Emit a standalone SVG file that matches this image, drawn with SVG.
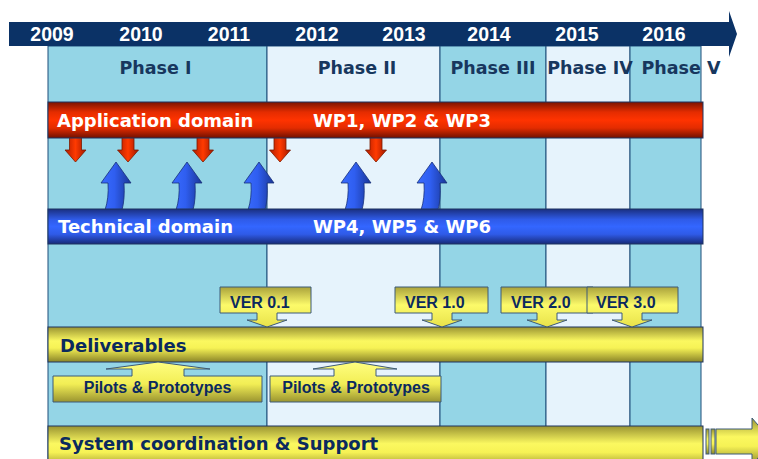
<svg xmlns="http://www.w3.org/2000/svg" width="758" height="459" viewBox="0 0 758 459">
  <style>
    .year { font: bold 19.5px "Liberation Sans", Arial, sans-serif; fill: #ffffff; text-anchor: middle; }
    .phase { font: bold 17.5px "DejaVu Sans", Verdana, sans-serif; fill: #17375e; text-anchor: middle; }
    .lane { font: bold 18px "DejaVu Sans", Verdana, sans-serif; }
    .light { fill: #ffffff; }
    .dark { fill: #0b2a5e; }
    .tag { font: bold 16px "Liberation Sans", Arial, sans-serif; fill: #0b2a5e; }
    .colA { fill: #94d5e6; stroke: #1f4e7a; stroke-width: 1; }
    .colB { fill: #e6f3fc; stroke: #1f4e7a; stroke-width: 1; }
    .bar { stroke: #1e3560; stroke-width: 1; }
    .ybox { stroke: #3d5a78; stroke-width: 1; }
    .down { fill: url(#gArrowRed); stroke: #7a1a00; stroke-width: 0.8; }
    .up { fill: url(#gArrowBlue); stroke: #18307a; stroke-width: 0.8; }
  </style>
  <defs>
    <linearGradient id="gRed" x1="0" y1="0" x2="0" y2="1">
      <stop offset="0" stop-color="#7a1300"/>
      <stop offset="0.28" stop-color="#e42c00"/>
      <stop offset="0.5" stop-color="#ff3300"/>
      <stop offset="0.72" stop-color="#e42c00"/>
      <stop offset="1" stop-color="#701000"/>
    </linearGradient>
    <linearGradient id="gBlue" x1="0" y1="0" x2="0" y2="1">
      <stop offset="0" stop-color="#1a2f80"/>
      <stop offset="0.3" stop-color="#2f5be8"/>
      <stop offset="0.5" stop-color="#3366ff"/>
      <stop offset="0.72" stop-color="#2f5be8"/>
      <stop offset="1" stop-color="#172a78"/>
    </linearGradient>
    <linearGradient id="gYellow" x1="0" y1="0" x2="0" y2="1">
      <stop offset="0" stop-color="#9a9432"/>
      <stop offset="0.4" stop-color="#fbf860"/>
      <stop offset="0.6" stop-color="#f6f255"/>
      <stop offset="1" stop-color="#8a8428"/>
    </linearGradient>
    <linearGradient id="gVer" x1="0" y1="0" x2="0" y2="1">
      <stop offset="0" stop-color="#aaa23c"/>
      <stop offset="0.45" stop-color="#fcfa6a"/>
      <stop offset="1" stop-color="#e8e24a"/>
    </linearGradient>
    <linearGradient id="gPilot" x1="0" y1="0" x2="0" y2="1">
      <stop offset="0" stop-color="#fffe80"/>
      <stop offset="0.55" stop-color="#f2ee55"/>
      <stop offset="1" stop-color="#9a9430"/>
    </linearGradient>
    <linearGradient id="gArrowRed" x1="0" y1="0" x2="1" y2="0">
      <stop offset="0" stop-color="#b01c00"/>
      <stop offset="0.5" stop-color="#ff3a00"/>
      <stop offset="1" stop-color="#a01800"/>
    </linearGradient>
    <linearGradient id="gArrowBlue" x1="0" y1="0" x2="1" y2="0">
      <stop offset="0" stop-color="#3a6cff"/>
      <stop offset="0.45" stop-color="#2f5ef0"/>
      <stop offset="1" stop-color="#1a3696"/>
    </linearGradient>
  </defs>

  <!-- phase columns -->
  <g id="phases">
    <rect class="colA" x="48" y="46" width="219" height="420"/>
    <rect class="colB" x="267" y="46" width="173" height="420"/>
    <rect class="colA" x="440" y="46" width="106" height="420"/>
    <rect class="colB" x="546" y="46" width="84" height="420"/>
    <rect class="colA" x="630" y="46" width="71" height="420"/>
    <text class="phase" x="155.5" y="74">Phase I</text>
    <text class="phase" x="357" y="74">Phase II</text>
    <text class="phase" x="493" y="74">Phase III</text>
    <text class="phase" x="590" y="74">Phase IV</text>
    <text class="phase" x="681" y="74">Phase V</text>
  </g>

  <!-- timeline header -->
  <g id="timeline">
    <path d="M9,22 H729 V11 L737,34 L729,57 V46 H9 Z" fill="#0b3266"/>
    <text class="year" x="52" y="41">2009</text>
    <text class="year" x="141" y="41">2010</text>
    <text class="year" x="229" y="41">2011</text>
    <text class="year" x="317" y="41">2012</text>
    <text class="year" x="404" y="41">2013</text>
    <text class="year" x="489" y="41">2014</text>
    <text class="year" x="577" y="41">2015</text>
    <text class="year" x="664" y="41">2016</text>
  </g>

  <!-- interaction arrows between the two domains -->
  <g id="connectors">
    <path class="down" d="M69.5,137 H81.5 V150 H86 L75.5,162 L65,150 H69.5 Z"/>
    <path class="down" d="M122,137 H134 V150 H138.5 L128,162 L117.5,150 H122 Z"/>
    <path class="down" d="M197,137 H209 V150 H213.5 L203,162 L192.5,150 H197 Z"/>
    <path class="down" d="M274,137 H286 V150 H290.5 L280,162 L269.5,150 H274 Z"/>
    <path class="down" d="M370,137 H382 V150 H386.5 L376,162 L365.5,150 H370 Z"/>

    <path class="up" d="M116,162 L131,183 H124 Q125,199 122,210 H105 Q109,198 108,183 H101 Z"/>
    <path class="up" d="M187,162 L202,183 H195 Q196,199 193,210 H176 Q180,198 179,183 H172 Z"/>
    <path class="up" d="M259,162 L274,183 H267 Q268,199 265,210 H248 Q252,198 251,183 H244 Z"/>
    <path class="up" d="M356,162 L371,183 H364 Q365,199 362,210 H345 Q349,198 348,183 H341 Z"/>
    <path class="up" d="M432,162 L447,183 H440 Q441,199 438,210 H421 Q425,198 424,183 H417 Z"/>
  </g>

  <!-- application domain -->
  <g id="application">
    <rect class="bar" x="48" y="102" width="655" height="36" fill="url(#gRed)"/>
    <text class="lane light" x="57" y="127">Application domain</text>
    <text class="lane light" x="313" y="127">WP1, WP2 &amp; WP3</text>
  </g>

  <!-- technical domain -->
  <g id="technical">
    <rect class="bar" x="48" y="209" width="655" height="35" fill="url(#gBlue)"/>
    <text class="lane light" x="58" y="233">Technical domain</text>
    <text class="lane light" x="313" y="233">WP4, WP5 &amp; WP6</text>
  </g>

  <!-- deliverables -->
  <g id="deliverables">
    <rect class="bar" x="48" y="327" width="655" height="35" fill="url(#gYellow)"/>
    <text class="lane dark" x="60" y="352">Deliverables</text>
  </g>

  <!-- releases -->
  <g id="ver01">
    <path class="ybox" fill="url(#gVer)" d="M220,287 H311 V313 H277 V320 H287 L267,327 L247,320 H257 V313 H220 Z"/>
    <text class="tag" x="230" y="308">VER 0.1</text>
  </g>
  <g id="ver10">
    <path class="ybox" fill="url(#gVer)" d="M395,287 H488 V313 H452 V320 H462 L442,327 L422,320 H432 V313 H395 Z"/>
    <text class="tag" x="405" y="308">VER 1.0</text>
  </g>
  <g id="ver20">
    <path class="ybox" fill="url(#gVer)" d="M501,287 H593 V313 H557 V320 H567 L547,327 L527,320 H537 V313 H501 Z"/>
    <text class="tag" x="511" y="308">VER 2.0</text>
  </g>
  <g id="ver30">
    <path class="ybox" fill="url(#gVer)" d="M587,287 H678 V313 H642 V320 H652 L632,327 L612,320 H622 V313 H587 Z"/>
    <text class="tag" x="596" y="308">VER 3.0</text>
  </g>

  <!-- pilots -->
  <g id="pilots1">
    <path class="ybox" fill="url(#gPilot)" d="M53,402 V376 H132 V369 H106 L158,362 L210,369 H184 V376 H262 V402 Z"/>
    <text class="tag" x="157.5" y="393" text-anchor="middle">Pilots &amp; Prototypes</text>
  </g>
  <g id="pilots2">
    <path class="ybox" fill="url(#gPilot)" d="M270,402 V376 H334 V369 H313 L355,362 L397,369 H376 V376 H441 V402 Z"/>
    <text class="tag" x="356" y="393" text-anchor="middle">Pilots &amp; Prototypes</text>
  </g>

  <!-- coordination & support -->
  <g id="support">
    <rect class="bar" x="48" y="426" width="655" height="44" fill="url(#gYellow)"/>
    <text class="lane dark" x="59" y="450">System coordination &amp; Support</text>
    <rect class="ybox" x="706" y="429" width="3" height="25" fill="url(#gYellow)"/>
    <rect class="ybox" x="711" y="429" width="4" height="25" fill="url(#gYellow)"/>
    <path class="ybox" fill="url(#gYellow)" d="M716,429 H752 V418 L772,441.5 L752,465 V454 H716 Z"/>
  </g>
</svg>
